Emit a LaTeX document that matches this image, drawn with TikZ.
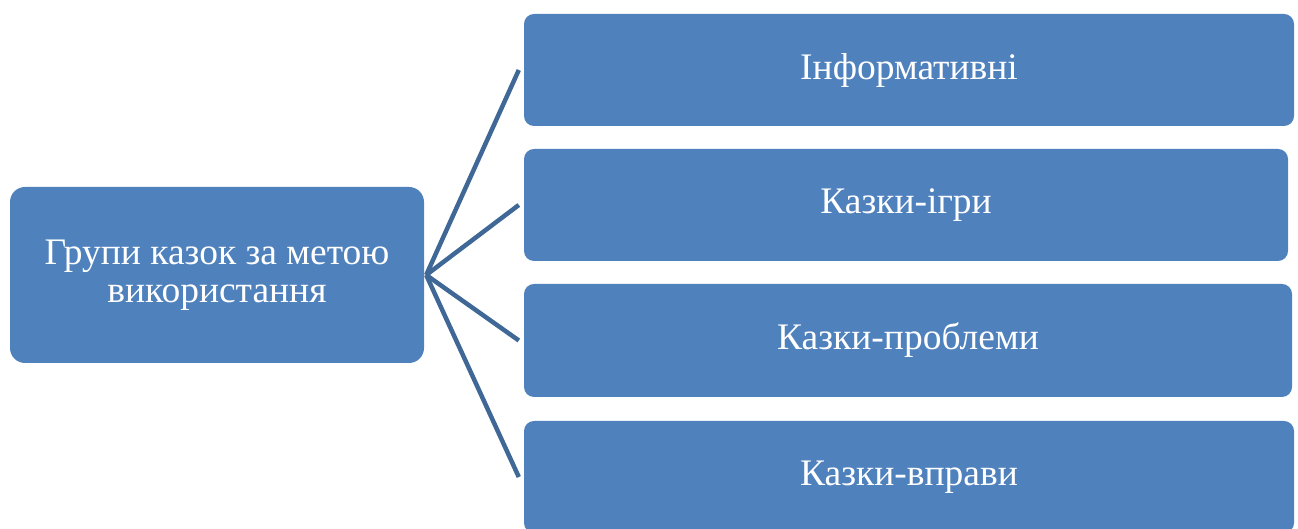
\documentclass[tikz,border=0pt]{standalone}
\usepackage{fontspec}
\setmainfont{Liberation Serif}
\definecolor{boxblue}{HTML}{4F81BD}
\definecolor{lineblue}{HTML}{3F6897}
\begin{document}
\begin{tikzpicture}[x=1pt,y=1pt,
  box/.style={fill=boxblue,draw=none,rounded corners=10pt,text=white,align=center,
    inner sep=0pt,font=\fontsize{37.5}{38}\selectfont},
  conn/.style={draw=lineblue,line width=4.5pt}]
\useasboundingbox (0,0) rectangle (1298,529);
\clip (0,0) rectangle (1298,529);
\node[box,rounded corners=15pt,minimum width=414pt,minimum height=176pt] (L) at (217,254) {Групи казок за метою\\використання};
\node[box,minimum width=770pt,minimum height=112pt] (R1) at (909,459) {Інформативні};
\node[box,minimum width=764pt,minimum height=112pt] (R2) at (906,324) {Казки-ігри};
\node[box,minimum width=768pt,minimum height=113pt] (R3) at (908,188.5) {Казки-проблеми};
\node[box,minimum width=770pt,minimum height=112pt] (R4) at (909,52) {Казки-вправи};
\coordinate (J) at ([xshift=2pt]L.east);
\foreach \r in {R1,R2,R3,R4}{
  \draw[conn] (J) -- ([xshift=-5pt]\r.west);
}
\end{tikzpicture}
\end{document}
